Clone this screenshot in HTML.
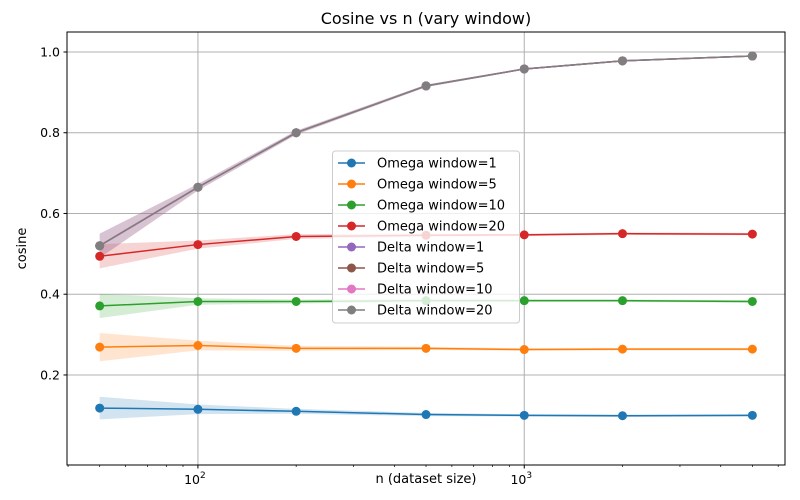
<!DOCTYPE html>
<html><head><meta charset="utf-8"><style>
body{margin:0;background:#fff;}
svg{display:block;font-family:"DejaVu Sans","Liberation Sans",sans-serif;}
</style></head><body>
<svg id="chart" width="800" height="500"></svg>
<script>
const xs = [50,100,200,500,1000,2000,5000];
const seriesNames = ["Omega window=1","Omega window=5","Omega window=10","Omega window=20","Delta window=1","Delta window=5","Delta window=10","Delta window=20"];
const colors = ["#1f77b4","#ff7f0e","#2ca02c","#d62728","#9467bd","#8c564b","#e377c2","#7f7f7f"];
const omega1 = [0.118,0.115,0.110,0.102,0.100,0.099,0.100];
const omega5 = [0.269,0.273,0.266,0.266,0.263,0.264,0.264];
const omega10 = [0.371,0.382,0.382,0.384,0.384,0.384,0.382];
const omega20 = [0.494,0.523,0.543,0.546,0.547,0.550,0.549];
const delta = [0.520,0.665,0.800,0.916,0.958,0.978,0.990];
const bandOmega1 = [0.028,0.012,0.006,0.004,0.003,0.003,0.003];
const bandOmega5 = [0.035,0.012,0.006,0.004,0.003,0.003,0.003];
const bandOmega10 = [0.030,0.008,0.005,0.004,0.003,0.003,0.003];
const bandOmega20 = [0.030,0.010,0.006,0.004,0.003,0.003,0.003];
const bandDelta = [0.030,0.008,0.005,0.003,0.002,0.002,0.001];
const yTicks = [0.2,0.4,0.6,0.8,1.0];
const yTickLabels = ["0.2","0.4","0.6","0.8","1.0"];

const svg = document.getElementById('chart');
const NS = "http://www.w3.org/2000/svg";
const L=67,R=785,T=32,B=465;
const xmin=Math.log10(39.7), xmax=Math.log10(6295);
const ymin=-0.023, ymax=1.0495;
function X(v){return L+(Math.log10(v)-xmin)/(xmax-xmin)*(R-L);}
function Y(v){return B-(v-ymin)/(ymax-ymin)*(B-T);}
function el(tag,attrs,parent){const e=document.createElementNS(NS,tag);for(const k in attrs)e.setAttribute(k,attrs[k]);(parent||svg).appendChild(e);return e;}

[100,1000].forEach(v=>{const g=el('line',{x1:X(v),x2:X(v),y1:T,y2:B,stroke:'#b0b0b0','stroke-width':1});
});
yTicks.forEach(v=>{const g=el('line',{x1:L,x2:R,y1:Y(v),y2:Y(v),stroke:'#b0b0b0','stroke-width':1});
});

const data=[omega1,omega5,omega10,omega20,delta,delta,delta,delta];
const bands=[bandOmega1,bandOmega5,bandOmega10,bandOmega20,bandDelta,bandDelta,bandDelta,bandDelta];
for(let s=0;s<8;s++){
  const d=data[s],b=bands[s];
  let pts=xs.map((x,i)=>X(x)+','+Y(d[i]+b[i]));
  pts=pts.concat(xs.map((x,i)=>X(x)+','+Y(d[i]-b[i])).reverse());
  const p=el('polygon',{points:pts.join(' '),fill:colors[s],'fill-opacity':s>=4?0.12:0.2,stroke:'none'});
  
}
for(let s=0;s<8;s++){
  const d=data[s];
  const pl=el('polyline',{points:xs.map((x,i)=>X(x)+','+Y(d[i])).join(' '),fill:'none',stroke:colors[s],'stroke-width':1.5});
  
  xs.forEach((x,i)=>{const c=el('circle',{cx:X(x),cy:Y(d[i]),r:4.5,fill:colors[s]});
    });
}
const fr=el('rect',{x:L,y:T,width:R-L,height:B-T,fill:'none',stroke:'#000','stroke-width':1});

yTicks.forEach((v,i)=>{el('line',{x1:L-3.5,x2:L,y1:Y(v),y2:Y(v),stroke:'#000'});
  const t=el('text',{x:L-7,y:Y(v)+4.5,'font-size':12.5,'text-anchor':'end'});t.textContent=yTickLabels[i];
  });
[[100,'2'],[1000,'3']].forEach(([v,e])=>{el('line',{x1:X(v),x2:X(v),y1:B,y2:B+3.5,stroke:'#000'});
  const t=el('text',{x:X(v)-3,y:B+19,'font-size':12.5,'text-anchor':'middle'});
  t.textContent='10';const s=el('tspan',{dy:-6,'font-size':9},t);s.textContent=e;
  });
for(let dec=10;dec<=1000;dec*=10)for(let m=2;m<=9;m++){const v=m*dec;if(v>39.7&&v<6295)el('line',{x1:X(v),x2:X(v),y1:B,y2:B+2,stroke:'#000','stroke-width':0.7});}
let t=el('text',{x:(L+R)/2,y:T-8,'font-size':16,'text-anchor':'middle'});t.textContent='Cosine vs n (vary window)';

t=el('text',{x:(L+R)/2,y:483,'font-size':13,'text-anchor':'middle'});t.textContent='n (dataset size)';

t=el('text',{x:26,y:(T+B)/2,'font-size':13,'text-anchor':'middle',transform:'rotate(-90 26 '+((T+B)/2)+')'});t.textContent='cosine';

const lg=el('rect',{x:332.5,y:151,width:187,height:172,rx:3,fill:'#fff','fill-opacity':0.8,stroke:'#ccc'});

seriesNames.forEach((n,i)=>{const y=163+i*21;
  el('line',{x1:338,x2:365,y1:y,y2:y,stroke:colors[i],'stroke-width':1.5});
  el('circle',{cx:351.5,cy:y,r:4.5,fill:colors[i]});
  const tx=el('text',{x:377,y:y+4.5,'font-size':13});tx.textContent=n;
  });
</script>
</body></html>
